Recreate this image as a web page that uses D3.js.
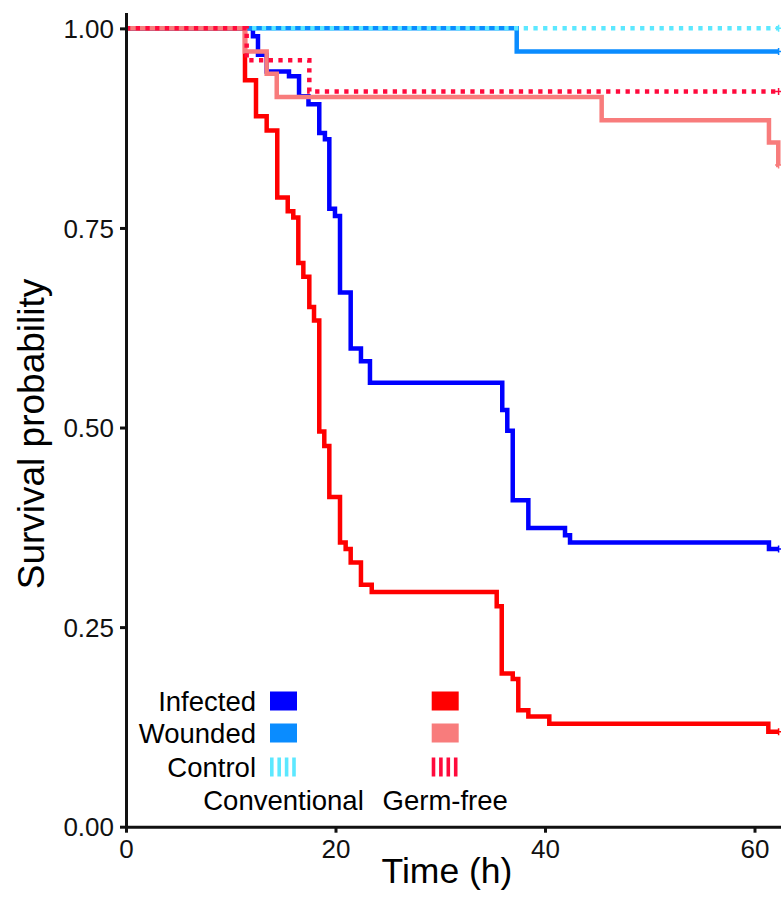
<!DOCTYPE html>
<html>
<head>
<meta charset="utf-8">
<script src="https://cdn.jsdelivr.net/npm/d3@7/dist/d3.min.js"></script>
<style>
  html, body { margin: 0; padding: 0; background: #fff; }
  svg { display: block; font-family: "Liberation Sans", Arial, sans-serif; }
</style>
</head>
<body>
<svg id="chart" width="781" height="900"></svg>
<script>
// Kaplan–Meier survival estimates, time in hours
const timeTicks = [0, 20, 40, 60];
const survTicks = [0, 0.25, 0.5, 0.75, 1];
const endTime = 62.3;

const infConvTime = [0, 12.12, 12.60, 13.43, 15.56, 16.52, 17.42, 18.45, 18.99, 19.41, 19.95, 20.43, 21.45, 22.43, 23.29, 35.92, 36.40, 36.92, 38.41, 41.91, 42.39, 61.38];
const infConvSurv = [1, 0.990, 0.967, 0.946, 0.940, 0.915, 0.905, 0.869, 0.861, 0.774, 0.765, 0.669, 0.599, 0.583, 0.556, 0.522, 0.496, 0.409, 0.374, 0.365, 0.356, 0.348];

const woundConvTime = [0, 37.30];
const woundConvSurv = [1, 0.971];

const ctrlConvTime = [0];
const ctrlConvSurv = [1];

const infGfTime = [0, 11.36, 12.41, 13.43, 14.44, 15.44, 15.97, 16.45, 16.93, 17.50, 17.95, 18.45, 18.93, 19.41, 20.43, 20.97, 21.45, 22.43, 23.46, 35.39, 35.87, 36.92, 37.45, 38.41, 40.41, 61.32];
const infGfSurv = [1, 0.935, 0.890, 0.872, 0.788, 0.771, 0.763, 0.706, 0.689, 0.651, 0.634, 0.495, 0.477, 0.413, 0.356, 0.348, 0.331, 0.303, 0.294, 0.276, 0.192, 0.185, 0.146, 0.138, 0.129, 0.119];

const woundGfTime = [0, 11.36, 13.43, 14.39, 45.41, 61.38, 62.27];
const woundGfSurv = [1, 0.971, 0.943, 0.914, 0.885, 0.857, 0.829];

const ctrlGfTime = [0, 11.52, 17.50];
const ctrlGfSurv = [1, 0.960, 0.921];

const groupNames = ["Infected", "Wounded", "Control"];
const strainNames = ["Conventional", "Germ-free"];

const series = [
  { time: infConvTime,   surv: infConvSurv,   color: "#0000FF", dotted: false },
  { time: woundConvTime, surv: woundConvSurv, color: "#0A8CFF", dotted: false },
  { time: ctrlConvTime,  surv: ctrlConvSurv,  color: "#5CE8FF", dotted: true },
  { time: infGfTime,     surv: infGfSurv,     color: "#FF0000", dotted: false },
  { time: woundGfTime,   surv: woundGfSurv,   color: "#F87C7C", dotted: false },
  { time: ctrlGfTime,    surv: ctrlGfSurv,    color: "#FF0A3C", dotted: true }
];

const svg = d3.select("#chart");
const x = d3.scaleLinear().domain([0, 62.53]).range([126, 781]);
const y = d3.scaleLinear().domain([0, 1.02]).range([826.7, 12.4]);

svg.append("defs").append("clipPath").attr("id", "plotclip")
  .append("rect").attr("x", 126).attr("y", 0).attr("width", 655).attr("height", 830);

const line = d3.line()
  .x(d => x(d[0]))
  .y(d => y(d[1]))
  .curve(d3.curveStepAfter);

const curves = svg.append("g").attr("clip-path", "url(#plotclip)");
series.forEach(s => {
  const pts = s.time.map((t, i) => [t, s.surv[i]]);
  pts.push([endTime, s.surv[s.surv.length - 1]]);
  curves.append("path")
    .attr("d", line(pts))
    .attr("fill", "none")
    .attr("stroke", s.color)
    .attr("stroke-width", 4.5)
    .attr("stroke-dasharray", s.dotted ? "4.3,5.4" : null);
  // censoring mark at the end of follow-up
  const cx = x(endTime), cy = y(s.surv[s.surv.length - 1]);
  curves.append("path")
    .attr("d", `M${cx - 3.5},${cy}H${cx + 3.5}M${cx},${cy - 3.5}V${cy + 3.5}`)
    .attr("stroke", s.color)
    .attr("stroke-width", 1.5);
});

// Axes
const yAxis = d3.axisLeft(y).tickValues(survTicks).tickFormat(d3.format(".2f"))
  .tickSize(6).tickSizeOuter(0).tickPadding(6);
const xAxis = d3.axisBottom(x).tickValues(timeTicks).tickFormat(d3.format("d"))
  .tickSize(6).tickSizeOuter(0).tickPadding(6);

const gy = svg.append("g").attr("transform", "translate(126,0)").call(yAxis);
const gx = svg.append("g").attr("transform", "translate(0,826.7)").call(xAxis);

[gx, gy].forEach(g => {
  g.select(".domain").attr("stroke", "#111").attr("stroke-width", 3);
  g.selectAll(".tick line").attr("stroke", "#111").attr("stroke-width", 3);
  g.selectAll(".tick text").attr("fill", "#111")
    .style("font-size", "26px").style("font-family", "Liberation Sans, Arial, sans-serif");
});
gy.selectAll(".tick text").attr("dy", "0.35em");
gx.selectAll(".tick text").attr("dy", "0.74em");

// Axis titles
svg.append("text")
  .attr("x", 447).attr("y", 883)
  .attr("text-anchor", "middle")
  .style("font-size", "35.5px").attr("fill", "#000")
  .text("Time (h)");

svg.append("text")
  .attr("transform", "translate(44,434) rotate(-90)")
  .attr("text-anchor", "middle")
  .style("font-size", "37px").attr("fill", "#000")
  .text("Survival probability");

// Legend: rows are treatment groups, columns are microbiota status
const legend = svg.append("g");
const rowY = [701, 733, 767];
const colX = [270, 431.7];
const keyW = 27, keyH = 19;

groupNames.forEach((name, r) => {
  legend.append("text")
    .attr("x", 256).attr("y", rowY[r] + 10)
    .attr("text-anchor", "end")
    .style("font-size", "27.5px").attr("fill", "#000")
    .text(name);
  strainNames.forEach((_, c) => {
    const s = series[c * 3 + r];
    if (!s.dotted) {
      legend.append("rect")
        .attr("x", colX[c]).attr("y", rowY[r] - keyH / 2)
        .attr("width", keyW).attr("height", keyH)
        .attr("fill", s.color);
    } else {
      legend.append("line")
        .attr("x1", colX[c]).attr("x2", colX[c] + keyW)
        .attr("y1", rowY[r]).attr("y2", rowY[r])
        .attr("stroke", s.color).attr("stroke-width", keyH)
        .attr("stroke-dasharray", "3.6,3.8");
    }
  });
});

strainNames.forEach((name, c) => {
  legend.append("text")
    .attr("x", colX[c] + keyW / 2).attr("y", 810)
    .attr("text-anchor", "middle")
    .style("font-size", "27.5px").attr("fill", "#000")
    .text(name);
});
</script>
</body>
</html>
